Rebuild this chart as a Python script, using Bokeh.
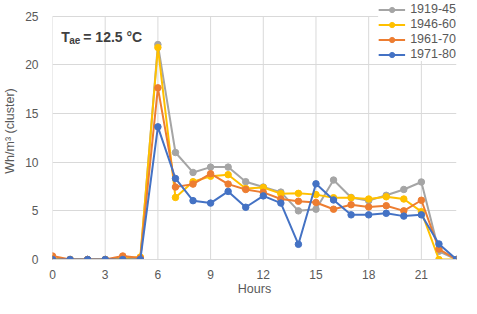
from bokeh.plotting import figure
from bokeh.models import Range1d, FixedTicker, Legend, LegendItem, Label, ColumnDataSource
from bokeh.embed import file_html
from bokeh.resources import INLINE

hours = list(range(24))
series_names = ["1919-45", "1946-60", "1961-70", "1971-80"]
s_1919_45 = [0, 0, 0, 0, 0, 0, 22.1, 11.0, 8.95, 9.5, 9.5, 8.0, 7.45, 6.93, 5.0, 5.17, 8.17, 6.38, 6.05, 6.6, 7.2, 7.97, 0.85, 0]
s_1946_60 = [0.1, 0, 0, 0, 0.1, 0.25, 21.8, 6.38, 8.0, 8.56, 8.72, 7.3, 7.4, 6.77, 6.8, 6.67, 6.35, 6.35, 6.22, 6.45, 6.22, 4.92, 0, 0]
s_1961_70 = [0.36, 0, 0, 0, 0.36, 0.15, 17.65, 7.45, 7.75, 8.82, 7.75, 7.2, 6.9, 6.22, 5.99, 5.86, 5.17, 5.63, 5.4, 5.53, 5.0, 6.09, 1.07, 0]
s_1971_80 = [0, 0, 0, 0, 0, 0, 13.64, 8.33, 6.05, 5.8, 7.0, 5.37, 6.54, 5.8, 1.56, 7.78, 6.12, 4.59, 4.59, 4.75, 4.46, 4.59, 1.6, 0]
x_ticks = [0, 3, 6, 9, 12, 15, 18, 21]
y_ticks = [0, 5, 10, 15, 20, 25]
colors = ["#A5A5A5", "#FFC000", "#ED7D31", "#4472C4"]

FONT = "Liberation Sans"
TXT = "#595959"
GRID = "#D9D9D9"

W, H = 461, 298
B_LEFT, B_RIGHT, B_TOP, B_BOTTOM = 51, 5, 2, 36
TOP_PAD = 14  # pixels of frame above the top tick (room for the legend)
frame_h = H - B_TOP - B_BOTTOM
y_end = y_ticks[-1] * frame_h / (frame_h - TOP_PAD)

p = figure(width=W, height=H, output_backend="svg", toolbar_location=None,
           x_range=Range1d(0, 23), y_range=Range1d(0, y_end),
           min_border_left=B_LEFT, min_border_right=B_RIGHT,
           min_border_top=B_TOP, min_border_bottom=B_BOTTOM)
p.outline_line_color = None
p.background_fill_color = "white"
p.border_fill_color = "white"

p.xaxis.ticker = FixedTicker(ticks=x_ticks)
p.yaxis.ticker = FixedTicker(ticks=y_ticks)
for ax in (p.xaxis[0], p.yaxis[0]):
    ax.major_tick_line_color = None
    ax.minor_tick_line_color = None
    ax.major_label_text_font = FONT
    ax.major_label_text_font_size = "12px"
    ax.major_label_text_color = TXT
    ax.axis_label_text_font = FONT
    ax.axis_label_text_font_size = "12.5px"
    ax.axis_label_text_font_style = "normal"
    ax.axis_label_text_color = TXT
p.xaxis.axis_line_color = GRID
p.yaxis.axis_line_color = None
p.xaxis.major_label_standoff = 4
p.yaxis.major_label_standoff = 8
p.xaxis.axis_label = "Hours"
p.yaxis.axis_label = "Wh/m³ (cluster)"
p.xaxis.axis_label_standoff = 0
p.yaxis.axis_label_standoff = 5

# horizontal grid from the axis; vertical grid lines only span the value range
p.ygrid.ticker = FixedTicker(ticks=y_ticks)
p.ygrid.grid_line_color = GRID
p.xgrid.grid_line_color = None
p.segment(x0=x_ticks, y0=[y_ticks[0]] * len(x_ticks), x1=x_ticks, y1=[y_ticks[-1]] * len(x_ticks),
          line_color=GRID, line_width=1)

items = []
for name, vals, c in zip(series_names, [s_1919_45, s_1946_60, s_1961_70, s_1971_80], colors):
    src = ColumnDataSource(dict(x=hours, y=vals))
    r1 = p.line("x", "y", source=src, line_color=c, line_width=2)
    r2 = p.scatter("x", "y", source=src, size=6.5, fill_color=c, line_color=c)
    items.append(LegendItem(label=name, renderers=[r1, r2]))

legend = Legend(items=items, location="top_right")
legend.label_text_font = FONT
legend.label_text_font_size = "12.5px"
legend.label_text_color = TXT
legend.glyph_width = 27
legend.glyph_height = 13
legend.label_height = 13
legend.spacing = 1
legend.padding = 4
legend.margin = 0
legend.label_standoff = 5
legend.border_line_color = None
legend.background_fill_color = "white"
legend.background_fill_alpha = 1.0
p.add_layout(legend)

lx, ly = 0.5, 22.85
p.add_layout(Label(x=lx, y=ly, text="T", text_font=FONT, text_font_size="14px",
                   text_font_style="bold", text_color="#404040", text_baseline="alphabetic"))
p.add_layout(Label(x=lx, y=ly, x_offset=8, y_offset=-3, text="ae", text_font=FONT,
                   text_font_size="10px", text_font_style="bold", text_color="#404040",
                   text_baseline="alphabetic"))
p.add_layout(Label(x=lx, y=ly, x_offset=22, text="= 12.5 °C", text_font=FONT,
                   text_font_size="14px", text_font_style="bold", text_color="#404040",
                   text_baseline="alphabetic"))

open("out.html", "w").write(file_html(p, INLINE))
